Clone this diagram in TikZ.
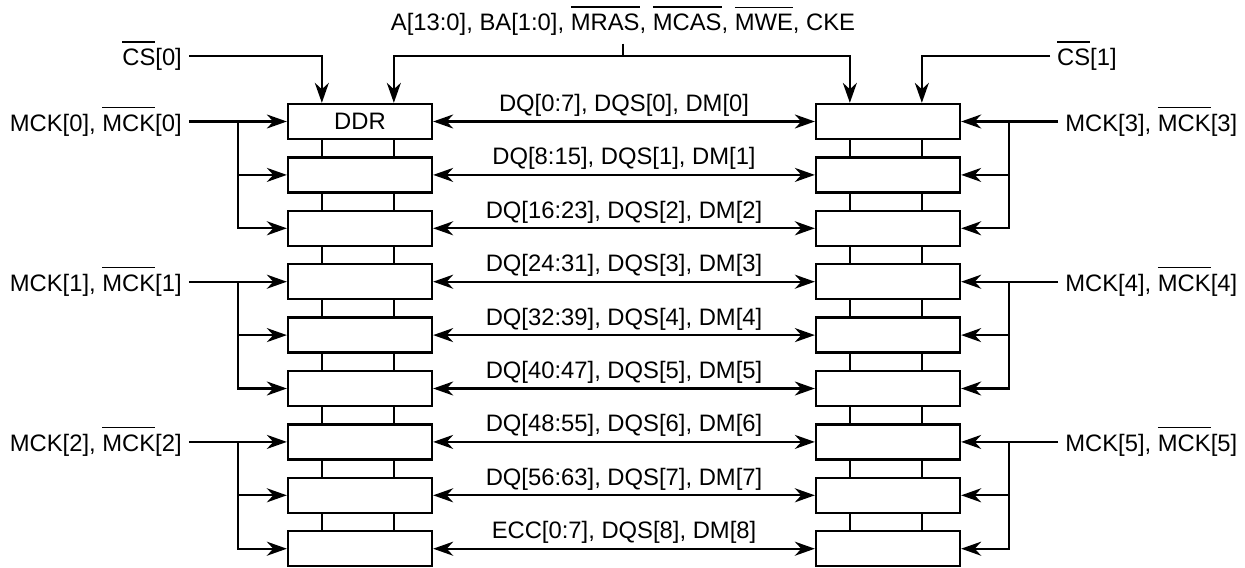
\documentclass[tikz,border=0pt]{standalone}
\usepackage{fontspec}
\setmainfont{Liberation Sans}
\usetikzlibrary{positioning,arrows.meta,calc}
\newcommand{\ovl}[1]{\setbox0\hbox{#1}\rlap{\rule[\dimexpr\ht0+3.3pt\relax]{\wd0}{0.65pt}}\box0}

\begin{document}
\begin{tikzpicture}[x=0.5pt, y=-0.5pt,
  font=\fontsize{11.9}{14}\selectfont,
  line width=1.15pt,
  ddr/.style={draw, minimum width=72pt, minimum height=17.5pt, inner sep=0pt},
  arr/.style={-{Stealth[length=10pt, width=7pt, inset=3.2pt]}},
  dbl/.style={{Stealth[length=10pt, width=7pt, inset=3.2pt]}-{Stealth[length=10pt, width=7pt, inset=3.2pt]}},
  sig/.style={inner sep=3pt},
  lbl/.style={above, inner sep=2pt}
]
\useasboundingbox (0,0) rectangle (1245,567);
% ================= the two columns of chips =================
\node[ddr] (L0) at (360,121.5) {DDR};
\node[ddr] (R0) at (888,121.5) {};
\foreach \i in {1,...,8} {
  \pgfmathsetmacro\yy{121.5+53.4*\i}
  \node[ddr] (L\i) at (360,\yy) {};
  \node[ddr] (R\i) at (888,\yy) {};
}
\foreach \i in {0,...,7} {
  \pgfmathtruncatemacro\j{\i+1}
  \draw ($(L\i.south west)+(35,0)$) -- ($(L\j.north west)+(35,0)$);
  \draw ($(L\i.south west)+(107,0)$) -- ($(L\j.north west)+(107,0)$);
  \draw ($(R\i.south west)+(35,0)$) -- ($(R\j.north west)+(35,0)$);
  \draw ($(R\i.south west)+(107,0)$) -- ($(R\j.north west)+(107,0)$);
}
% ================= data lanes =================
\foreach \i/\lab in {0/{DQ[0:7], DQS[0], DM[0]}, 1/{DQ[8:15], DQS[1], DM[1]},
  2/{DQ[16:23], DQS[2], DM[2]}, 3/{DQ[24:31], DQS[3], DM[3]},
  4/{DQ[32:39], DQS[4], DM[4]}, 5/{DQ[40:47], DQS[5], DM[5]},
  6/{DQ[48:55], DQS[6], DM[6]}, 7/{DQ[56:63], DQS[7], DM[7]},
  8/{ECC[0:7], DQS[8], DM[8]}}
  \draw[dbl] (L\i.east) -- node[lbl]{\lab} (R\i.west);
% ================= address bus and chip selects =================
\node (addr) at (623,21) {A[13:0], BA[1:0], \ovl{MRAS}, \ovl{MCAS}, \ovl{MWE}, CKE};
\coordinate (bus) at (623,56);
\draw (addr.south) -- (bus);
\draw[arr] (bus) -| ($(L0.north west)+(107,0)$);
\draw[arr] (bus) -| ($(R0.north west)+(35,0)$);
\node[sig, anchor=east] (cs0) at (189,56) {\ovl{CS}[0]};
\node[sig, anchor=west] (cs1) at (1050,56) {\ovl{CS}[1]};
\draw[arr] (cs0.east) -| ($(L0.north west)+(35,0)$);
\draw[arr] (cs1.west) -| ($(R0.north west)+(107,0)$);
% ================= clocks =================
\foreach \k/\i in {0/0, 1/3, 2/6} {
  \pgfmathtruncatemacro\ia{\i+1}
  \pgfmathtruncatemacro\ib{\i+2}
  \node[sig, anchor=east] (mckl\k) at ($(L\i.west)+(-98,0)$) {MCK[\k], \ovl{MCK}[\k]};
  \coordinate (jl\k) at ($(L\i.west)+(-49,0)$);
  \draw[arr] (mckl\k.east) -- (L\i.west);
  \draw[arr] (jl\k) |- (L\ia.west);
  \draw[arr] (jl\k) |- (L\ib.west);
}
\foreach \k/\i in {3/0, 4/3, 5/6} {
  \pgfmathtruncatemacro\ia{\i+1}
  \pgfmathtruncatemacro\ib{\i+2}
  \node[sig, anchor=west] (mckr\k) at ($(R\i.east)+(97,0)$) {MCK[\k], \ovl{MCK}[\k]};
  \coordinate (jr\k) at ($(R\i.east)+(48,0)$);
  \draw[arr] (mckr\k.west) -- (R\i.east);
  \draw[arr] (jr\k) |- (R\ia.east);
  \draw[arr] (jr\k) |- (R\ib.east);
}
\end{tikzpicture}
\end{document}
